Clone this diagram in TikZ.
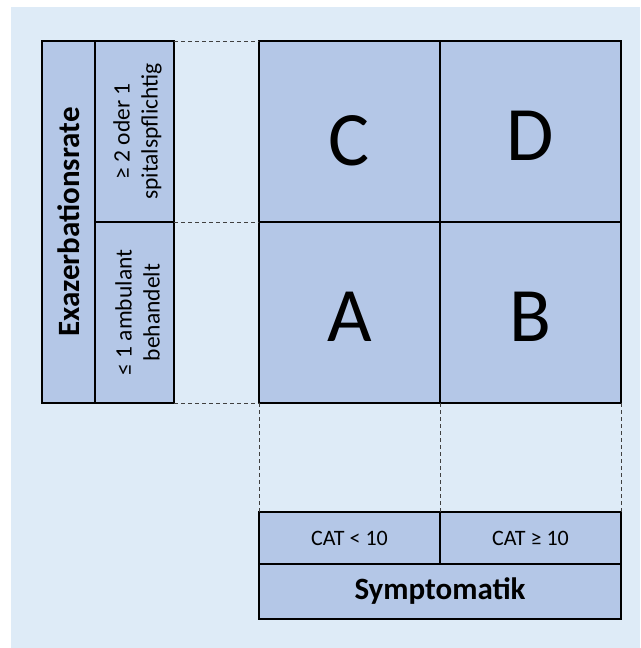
\documentclass[tikz,border=0pt]{standalone}
\usepackage{fontspec}
\setmainfont{Carlito}
\definecolor{pagebg}{HTML}{DEEBF7}
\definecolor{cellfill}{HTML}{B4C7E7}
\definecolor{guide}{HTML}{404040}
\tikzset{
  cell/.style={draw=black, fill=cellfill, line width=1.5pt, rectangle, inner sep=0pt, outer sep=0pt, align=center},
  bigletter/.style={font=\fontsize{77}{77}\selectfont, text height=48.7pt, text depth=0pt},
  boldlabel/.style={font=\fontsize{31}{31}\selectfont\bfseries},
  smalllabel/.style={font=\fontsize{23.5}{28}\selectfont, align=center, inner sep=0pt},
  guideline/.style={draw=guide, line width=0.9pt, dash pattern=on 4pt off 3pt}
}
\begin{document}
\begin{tikzpicture}[x=1pt, y=-1pt]
  \useasboundingbox (0,0) rectangle (640,648);
  \fill[white] (0,0) rectangle (640,648);
  \fill[pagebg] (11,7) rectangle (640,648);

  % row axis: exacerbation rate
  \node[cell, minimum width=53pt, minimum height=362pt] (exa) at (68.5,222) {};
  \node[boldlabel, rotate=90] (exatext) at (exa.center) {Exazerbationsrate};
  \node[cell, minimum width=79pt, minimum height=181pt] (high) at (134.5,131.5) {};
  \node[smalllabel, rotate=90] (hightext) at ([xshift=3pt]high.center) {≥ 2 oder 1\\spitalspflichtig};
  \node[cell, minimum width=79pt, minimum height=181pt] (low) at (134.5,312.5) {};
  \node[smalllabel, rotate=90] (lowtext) at ([xshift=3pt]low.center) {≤ 1 ambulant\\behandelt};

  % the four groups
  \node[cell, minimum width=181pt, minimum height=181pt] (C) at (349.5,131.5) {};
  \node[bigletter] (Ctext) at ([yshift=-10pt]C.center) {C};
  \node[cell, minimum width=181pt, minimum height=181pt] (D) at (530.5,131.5) {};
  \node[bigletter] (Dtext) at ([yshift=-4.5pt]D.center) {D};
  \node[cell, minimum width=181pt, minimum height=181pt] (A) at (349.5,312.5) {};
  \node[bigletter] (Atext) at ([yshift=-4.5pt]A.center) {A};
  \node[cell, minimum width=181pt, minimum height=181pt] (B) at (530.5,312.5) {};
  \node[bigletter] (Btext) at ([yshift=-4.5pt]B.center) {B};

  % column axis: symptoms
  \node[cell, minimum width=181pt, minimum height=52pt, font=\fontsize{22}{22}\selectfont] (cat1) at (349.5,538) {CAT < 10};
  \node[cell, minimum width=181pt, minimum height=52pt, font=\fontsize{22}{22}\selectfont] (cat2) at (530.5,538) {CAT ≥ 10};
  \node[cell, minimum width=362pt, minimum height=55pt, boldlabel] (sym) at (440,591.5) {Symptomatik};

  % guide lines
  \draw[guideline] (high.north east) -- (C.north west);
  \draw[guideline] (high.south east) -- (A.north west);
  \draw[guideline] (low.south east) -- (A.south west);
  \draw[guideline] (A.south west) -- (cat1.north west);
  \draw[guideline] (A.south east) -- (cat1.north east);
  \draw[guideline] (B.south east) -- (cat2.north east);
\end{tikzpicture}
\end{document}
